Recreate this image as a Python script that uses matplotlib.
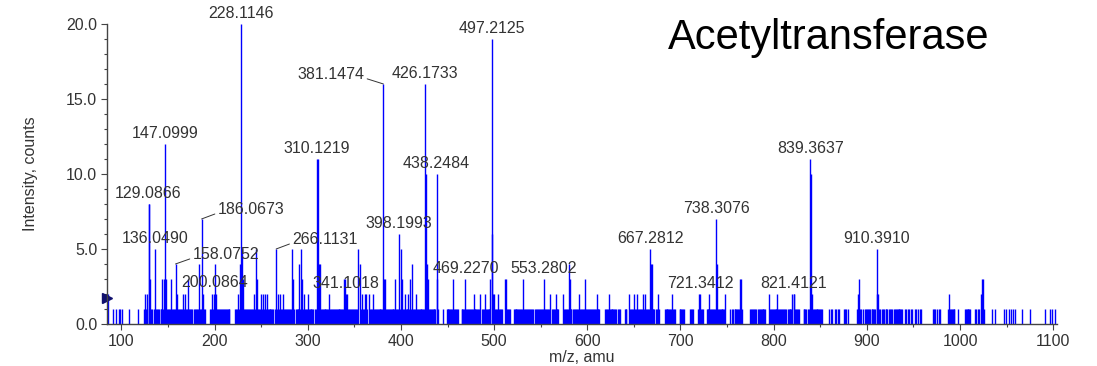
import matplotlib
matplotlib.use('Agg')
import numpy as np
import matplotlib.pyplot as plt
from matplotlib.ticker import MultipleLocator, FormatStrFormatter

plt.rcParams['font.family'] = ['Liberation Sans', 'DejaVu Sans']

# peaks above noise level (m/z, counts)
peak_mz = [85, 86, 125, 128, 129.0866, 130, 131, 136.0490, 144, 146, 147.0999, 148, 153,
           158.0752, 160, 166, 168, 171, 183, 186.0673, 188, 197, 199, 200.0864, 202,
           225, 227, 228.1146, 229, 230, 242, 244, 246, 250, 252, 254, 256,
           266.1131, 268, 270, 273, 283, 284, 291, 293, 294, 296, 300,
           310.1219, 311, 312, 313, 323, 339, 340, 341.1018, 342, 354, 356, 358, 361, 363, 366, 370,
           381.1474, 382, 383, 394, 398.1993, 400, 401, 404, 408, 410, 412, 416,
           426.1733, 427, 428, 429, 438.2484, 439, 456, 469.2270, 478, 485, 490,
           496, 497.2125, 498, 499, 500, 504, 512, 513, 531, 553.2802, 560, 566, 574,
           580, 581, 591, 598, 610, 623, 645, 650, 653, 660, 662,
           667.2812, 668, 669, 676, 691, 720, 721.3412, 731, 738.3076, 739, 748, 764, 765,
           795, 804, 820, 821.4121, 822, 839.3637, 840, 841, 891, 892,
           910.3910, 911, 912, 988, 1023, 1024, 1025]
peak_int = [2, 2, 2, 2, 8, 8, 3, 5, 3, 3, 12, 3, 3,
            4, 2, 2, 2, 3, 4, 7, 2, 2, 2, 4, 2,
            2, 4, 20, 5, 3, 2, 5, 3, 2, 2, 2, 2,
            5, 2, 2, 2, 5, 3, 4, 5, 3, 2, 2,
            11, 11, 4, 4, 2, 3, 3, 2, 2, 5, 4, 2, 2, 2, 2, 2,
            16, 3, 3, 3, 6, 5, 3, 2, 2, 3, 4, 2,
            16, 10, 4, 3, 10, 3, 3, 3, 2, 2, 2,
            3, 19, 6, 2, 2, 2, 3, 3, 3, 3, 2, 2, 2,
            4, 3, 2, 3, 2, 2, 2, 2, 2, 2, 2,
            5, 4, 4, 2, 2, 2, 2, 2, 7, 4, 2, 3, 3,
            2, 2, 2, 2, 2, 11, 10, 2, 2, 3,
            5, 2, 2, 2, 2, 3, 3]

# single-count noise bars (m/z)
noise_mz = [int(v) for v in """
91 94 97 99 101 108 118
124 126 127 132 133 135 137 138 139 140 142 143 145 149 150 151 152 154 155 156 157 159 161
162 163 164 165 167 169 170 172 173 174 175 176 178 179 180 181 182 184 185 187 189 190
195 196 198 201 203 204 205 206 207 208 209 210 211 212 213 214 215 216 222 223 224 226
231 232 233 234 235 236 237 238 239 240 241 243 245 247 248 249 251 253 255 257 258 259
260 261 262 263 265 267 269 271 272 275 276 277 278 279 280 281 282 285 287 288 289 290
292 295 297 298 299 301 302 303 304 305 306 308 309 314 315 316 317 318 319 320 321 322
324 325 326 327 328 329 330 331 332 333 334 335 336 337 338 343 344 345 346 347 349 350
351 352 353 357 359 360 364 367 368 369 371 372 373 374 375 376 377 378 379 380 384 385
386 387 388 389 390 391 392 393 395 396 397 399 402 403 405 406 407 409 411 413 414 415
417 418 419 420 421 422 423 424 425 430 431 432 433 434 435 436 437 440 445 449 450 451
452 453 454 455 457 458 459 460 461 465 466 467 468 470 471 472 473 474 475 476 477 479
480 481 482 483 484 487 488 489 491 492 493 494 495 501 502 503 505 506 507 508 513 514
515 516 517 521 522 523 524 525 526 527 528 529 530 532 533 534 535 536 537 538 540 541
542 544 545 546 547 548 549 550 551 552 554 555 556 557 558 559 562 563 564 565 567 568
569 575 576 577 578 579 582 583 585 586 587 588 589 590 592 593 594 595 596 597 599 600
601 602 603 604 605 606 607 608 609 611 612 613 619 620 621 622 624 625 626 627 628 629
630 631 633 634 635 640 641 642 646 647 648 649 651 652 654 656 657 658 659 661 663 664
665 666 670 671 672 674 675 677 683 684 685 686 687 688 689 690 692 693 694 699 700 701
702 703 704 710 711 712 713 719 720 722 723 724 728 729 730 732 733 734 735 736 737 740
741 742 743 744 745 746 747 753 755 756 758 759 760 761 762 763 766
775 776 777 778 779 780 781 783 784 785 786 787 788 789 790 791 796 797 798 799 800 801
802 803 805 806 807 808 809 810 811 812 813 815 816 817 818 819 823 824 825 826 827 832
833 834 835 837 838 842 843 844 845 846 847 848 849 850 851 852 859 862 863 866 867 869
870 875 876 878 880 889 890 893 894 896 898 899 900 901 902 903 905 906 907 908 909 913
914 916 917 918 920 921 922 924 925 926 927 929 930 931 932 933 934 935 936 937 938 941
942 944 945 947 948 952 953 955 957 958 971 972 973 975 977 978 987 989 990 991 992 993
994 998 1005 1006 1007 1008 1009 1010 1011 1016 1017 1019 1020 1026 1034 1037 1047 1049
1053 1055 1057 1059 1066 1075 1091 1097 1099 1102
""".split()]

labels = ['129.0866', '136.0490', '147.0999', '158.0752', '186.0673', '200.0864', '228.1146',
          '266.1131', '310.1219', '341.1018', '381.1474', '398.1993', '426.1733', '438.2484',
          '469.2270', '497.2125', '553.2802', '667.2812', '721.3412', '738.3076', '821.4121',
          '839.3637', '910.3910']

# label placement (pixels): (dx, dy, ha, leader)
label_style = {
    '158.0752': (17, 9, 'left', True),
    '186.0673': (16, 9, 'left', True),
    '266.1131': (16, 9, 'left', True),
    '381.1474': (-19, 9, 'right', True),
    '200.0864': (0, -19, 'center', False),
}

fig = plt.figure(figsize=(10.97, 3.66), dpi=100)
ax = fig.add_axes([0.0975, 0.1148, 0.866, 0.8197])

ax.vlines(noise_mz, 0, np.ones(len(noise_mz)), colors='#0000ff', lw=1.0)
ax.vlines(peak_mz, 0, peak_int, colors='#0000ff', lw=1.0)

xmin, xmax = 84.5, 1104
ax.set_xlim(xmin, xmax)
ax.set_ylim(0, 20)

txtc = '#333333'
for lab in labels:
    mz = float(lab)
    h = peak_int[peak_mz.index(mz)]
    dx, dy, ha, lead = label_style.get(lab, (0, 10, 'center', False))
    ap = None
    if lead:
        ap = dict(arrowstyle='-', color='#333333', lw=0.7, shrinkA=0, shrinkB=0,
                  relpos=(0, 0.3) if ha == 'left' else (1, 0.3))
    ax.annotate(lab, xy=(mz, h), xytext=(dx, dy), textcoords='offset pixels',
                ha=ha, va='center', fontsize=11.5, color=txtc, arrowprops=ap,
                annotation_clip=False)

# precursor marker on the y axis
ax.plot([xmin], [1.75], marker='>', color='#10106e', ms=7, clip_on=False)

for s in ['top', 'right']:
    ax.spines[s].set_visible(False)
for s in ['left', 'bottom']:
    ax.spines[s].set_color('#444444')
    ax.spines[s].set_linewidth(1.0)

ax.yaxis.set_major_locator(MultipleLocator(5))
ax.yaxis.set_minor_locator(MultipleLocator(1))
ax.yaxis.set_major_formatter(FormatStrFormatter('%.1f'))
ax.xaxis.set_major_locator(MultipleLocator(100))
ax.xaxis.set_minor_locator(MultipleLocator(50))
ax.tick_params(which='major', length=4, width=0.8, color='#444444', labelsize=11.5,
               labelcolor=txtc, pad=3)
ax.tick_params(which='minor', length=2.5, width=0.8, color='#444444')

ax.set_xlabel('m/z, amu', fontsize=11.5, color=txtc, labelpad=1)
ax.set_ylabel('Intensity, counts', fontsize=11.5, color=txtc, labelpad=20)

fig.text(0.609, 1 - 38 / 366, 'Acetyltransferase', fontsize=30, color='black',
         ha='left', va='center')

fig.savefig('out.png', dpi=100)
